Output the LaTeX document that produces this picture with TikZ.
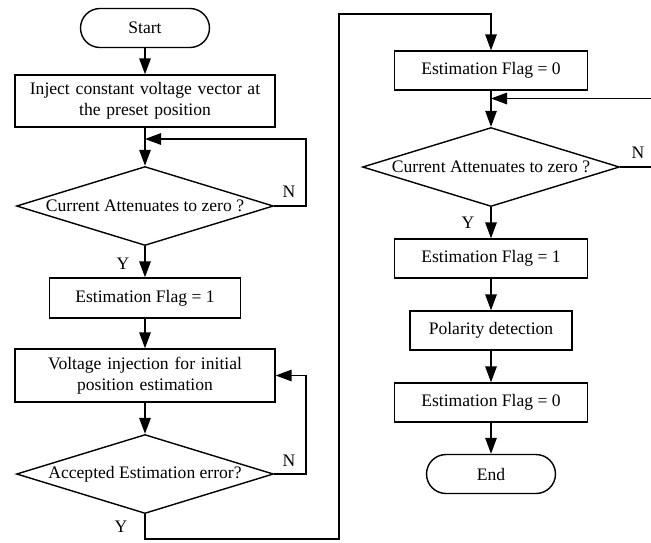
\documentclass[tikz,border=0pt]{standalone}
\usepackage{fontspec}
\setmainfont{Liberation Serif}
\usepackage{tikz}
\usetikzlibrary{arrows.meta}
\usetikzlibrary{shapes.geometric}
\providecommand{\ink}{black}

\begin{document}
\begin{tikzpicture}[x = 0.02cm, y = -0.02cm, line width = 0.8pt,
    box/.style = {draw = \ink, rectangle, minimum height = 0.78cm, inner sep = 0.1cm, align = center},
    term/.style = {box, rounded corners = 0.39cm, minimum width = 2.58cm},
    decision/.style = {draw = \ink, diamond, aspect = 3.25, inner sep = 0pt, minimum width = 5.14cm, minimum height = 1.58cm},
    flow/.style = {draw = \ink, -{Triangle[length = 3.2mm, width = 2.3mm]}}]%
    \useasboundingbox (0, 0) rectangle (651, 542);

    % left column
    \node[term] (start) at (145, 28) {Start};
    \node[box, text width = 5cm, minimum height = 1.04cm] (inject) at (145, 101) {Inject constant voltage vector at\\the preset position};
    \node[decision] (check1) at (145, 206) {Current Attenuates to zero ?};
    \node[box, minimum width = 3.82cm, minimum height = 0.8cm] (flag1) at (145, 298) {Estimation Flag = 1};
    \node[box, text width = 5cm, minimum height = 1.06cm] (estim) at (145, 375.5) {Voltage injection for initial\\position estimation};
    \node[decision] (check2) at (145, 474) {Accepted Estimation error?};

    % right column
    \node[box, minimum width = 3.86cm] (flag0a) at (491, 70.5) {Estimation Flag = 0};
    \node[decision] (check3) at (491, 167) {Current Attenuates to zero ?};
    \node[box, minimum width = 3.86cm] (flag1b) at (491, 258.5) {Estimation Flag = 1};
    \node[box, minimum width = 3.24cm] (polar) at (491, 330.5) {Polarity detection};
    \node[box, minimum width = 3.86cm] (flag0b) at (491, 402.5) {Estimation Flag = 0};
    \node[term] (end) at (491, 474) {End};

    \coordinate (join1) at (145, 139);
    \coordinate (join3) at (491, 98.5);
    \coordinate (down) at (339, 539);
    \coordinate (up) at (339, 14);

    \draw[flow] (start) -- (inject);
    \draw[flow] (inject) -- (check1);
    \draw[flow] (check1.east) -- ++(32, 0) |- (join1);
    \draw[flow] (check1) -- (flag1);
    \draw[flow] (flag1) -- (estim);
    \draw[flow] (estim) -- (check2);
    \draw[flow] (check2.east) -- ++(32, 0) |- (estim.east);
    \draw[flow] (check2.south) |- (down) -- (up) -| (flag0a.north);

    \draw[flow] (flag0a) -- (check3);
    \draw[flow] (check3.east) -- ++(42, 0) |- (join3);
    \draw[flow] (check3) -- (flag1b);
    \draw[flow] (flag1b) -- (polar);
    \draw[flow] (polar) -- (flag0b);
    \draw[flow] (flag0b) -- (end);

    % branch labels
    \node (n1) at (289, 192) {N};
    \node (y1) at (123, 264) {Y};
    \node (n2) at (289, 461) {N};
    \node (y2) at (121, 527) {Y};
    \node (n3) at (638, 153) {N};
    \node (y3) at (468, 223) {Y};
  \end{tikzpicture}
\end{document}
